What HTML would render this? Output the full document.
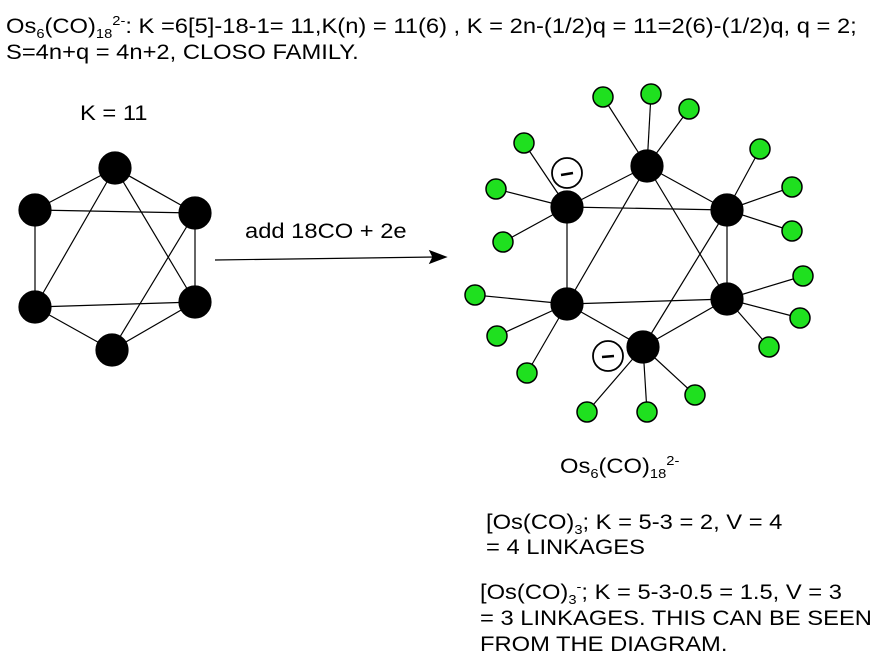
<!DOCTYPE html>
<html><head><style>
body{margin:0;width:882px;height:662px;background:#fff;overflow:hidden;font-family:"Liberation Sans",Arial,sans-serif;}
.t{position:absolute;font-size:21px;line-height:24px;color:#000;white-space:nowrap;transform:scaleX(1.13);transform-origin:0 0}
sub,sup{font-size:13px;line-height:0}
</style></head><body>
<div class="t" style="left:6px;top:15px">Os<sub>6</sub>(CO)<sub>18</sub><sup>2-</sup>: K =6[5]-18-1= 11,K(n) = 11(6) , K = 2n-(1/2)q = 11=2(6)-(1/2)q, q = 2;</div>
<div class="t" style="left:6px;top:41px">S=4n+q = 4n+2, CLOSO FAMILY.</div>
<div class="t" style="left:80px;top:102px">K = 11</div>
<div class="t" style="left:245px;top:220px">add 18CO + 2e</div>
<div class="t" style="left:560px;top:455px">Os<sub>6</sub>(CO)<sub>18</sub><sup>2-</sup></div>
<div class="t" style="left:486px;top:511px">[Os(CO)<sub>3</sub>; K = 5-3 = 2, V = 4</div>
<div class="t" style="left:486px;top:536px">= 4 LINKAGES</div>
<div class="t" style="left:480px;top:581px">[Os(CO)<sub>3</sub><sup>-</sup>; K = 5-3-0.5 = 1.5, V = 3</div>
<div class="t" style="left:480px;top:607px">= 3 LINKAGES. THIS CAN BE SEEN</div>
<div class="t" style="left:480px;top:633px">FROM THE DIAGRAM.</div>
<svg width="882" height="662" style="position:absolute;left:0;top:0" stroke="#000" stroke-width="1.2">
<g>
<line x1="115" y1="168" x2="35" y2="210"/><line x1="115" y1="168" x2="195" y2="213"/>
<line x1="35" y1="210" x2="195" y2="213"/><line x1="35" y1="210" x2="35" y2="307"/>
<line x1="195" y1="213" x2="195" y2="302"/><line x1="35" y1="307" x2="195" y2="302"/>
<line x1="35" y1="307" x2="112" y2="350"/><line x1="112" y1="350" x2="195" y2="302"/>
<line x1="115" y1="168" x2="35" y2="307"/><line x1="115" y1="168" x2="195" y2="302"/>
<line x1="195" y1="213" x2="112" y2="350"/>
<g fill="#000"><circle cx="115" cy="168" r="16"/><circle cx="35" cy="210" r="16"/><circle cx="195" cy="213" r="16"/><circle cx="35" cy="307" r="16"/><circle cx="195" cy="302" r="16"/><circle cx="112" cy="350" r="16"/></g>
</g>
<line x1="215" y1="260" x2="435" y2="257"/>
<polygon points="446,257 430,251 433,257 430,263" fill="#000"/>
<g>
<line x1="647" y1="166" x2="603" y2="97"/><line x1="647" y1="166" x2="651" y2="94"/><line x1="647" y1="166" x2="689" y2="109"/>
<line x1="567" y1="207" x2="524" y2="143"/><line x1="567" y1="207" x2="496" y2="189"/><line x1="567" y1="207" x2="503" y2="242"/>
<line x1="727" y1="210" x2="760" y2="149"/><line x1="727" y1="210" x2="792" y2="187"/><line x1="727" y1="210" x2="792" y2="231"/>
<line x1="727" y1="299" x2="803" y2="276"/><line x1="727" y1="299" x2="800" y2="318"/><line x1="727" y1="299" x2="769" y2="347"/>
<line x1="567" y1="304" x2="475" y2="295"/><line x1="567" y1="304" x2="497" y2="336"/><line x1="567" y1="304" x2="527" y2="373"/>
<line x1="643" y1="347" x2="587" y2="412"/><line x1="643" y1="347" x2="647" y2="412"/><line x1="643" y1="347" x2="695" y2="395"/>
<line x1="567" y1="207" x2="647" y2="166"/><line x1="647" y1="166" x2="727" y2="210"/><line x1="567" y1="207" x2="727" y2="210"/>
<line x1="567" y1="207" x2="567" y2="304"/><line x1="727" y1="210" x2="727" y2="299"/><line x1="567" y1="304" x2="727" y2="299"/>
<line x1="567" y1="304" x2="643" y2="347"/><line x1="643" y1="347" x2="727" y2="299"/>
<line x1="647" y1="166" x2="567" y2="304"/><line x1="647" y1="166" x2="727" y2="299"/><line x1="727" y1="210" x2="643" y2="347"/>
</g>
<g fill="#1fe01f" stroke-width="1.5">
<circle cx="603" cy="97" r="10"/><circle cx="651" cy="94" r="10"/><circle cx="689" cy="109" r="10"/>
<circle cx="524" cy="143" r="10"/><circle cx="496" cy="189" r="10"/><circle cx="503" cy="242" r="10"/>
<circle cx="760" cy="149" r="10"/><circle cx="792" cy="187" r="10"/><circle cx="792" cy="231" r="10"/>
<circle cx="803" cy="276" r="10"/><circle cx="800" cy="318" r="10"/><circle cx="769" cy="347" r="10"/>
<circle cx="475" cy="295" r="10"/><circle cx="497" cy="336" r="10"/><circle cx="527" cy="373" r="10"/>
<circle cx="587" cy="412" r="10"/><circle cx="647" cy="412" r="10"/><circle cx="695" cy="395" r="10"/>
</g>
<g fill="#000">
<circle cx="647" cy="166" r="16"/><circle cx="567" cy="207" r="16"/><circle cx="727" cy="210" r="16"/>
<circle cx="567" cy="304" r="16"/><circle cx="727" cy="299" r="16"/><circle cx="643" cy="347" r="16"/>
</g>
<g fill="#fff" stroke-width="1.8">
<circle cx="567" cy="173" r="15"/><circle cx="608" cy="356" r="15"/>
</g>
<line x1="561" y1="175" x2="573" y2="173" stroke-width="2.5"/>
<line x1="602" y1="357" x2="614" y2="356" stroke-width="2.5"/>
</svg>
</body></html>
